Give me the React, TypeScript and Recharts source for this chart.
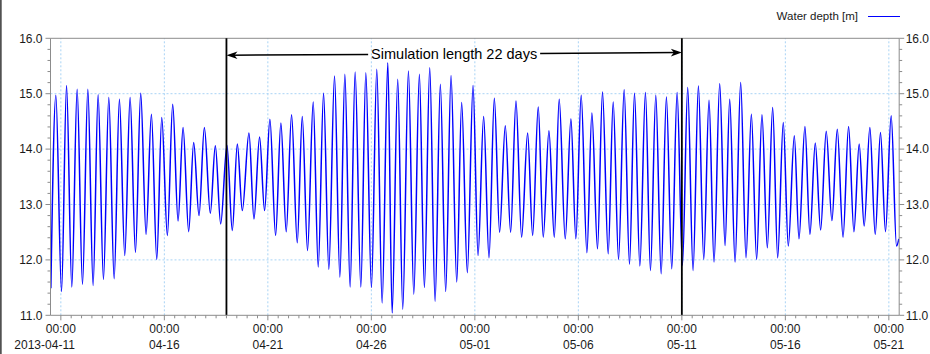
import React from 'react';
import { LineChart, Line, XAxis, YAxis, ReferenceLine } from 'recharts';

// Time in hours since 2013-04-11 00:00 (tidal highs and lows)
const hours = [
  -11.6, -5.8, 0.8, 6.6, 12.7, 18.9, 25.1, 31.3, 37.4, 43.2, 49.4, 55.6, 61.8, 67.9, 74.1, 80.3,
  86.5, 92.6, 98.8, 105.0, 111.2, 117.0, 123.5, 129.7, 135.9, 141.7, 148.2, 154.0, 160.2, 166.4, 173.3, 179.1,
  185.3, 192.6, 198.8, 204.6, 210.4, 218.1, 223.9, 230.4, 236.2, 242.4, 249.0, 255.1, 261.3, 267.5, 274.1, 279.9,
  286.0, 292.6, 298.4, 304.6, 310.7, 317.3, 323.5, 329.3, 335.4, 341.2, 347.8, 353.6, 360.1, 366.3, 372.5, 379.1,
  384.1, 390.6, 396.4, 403.0, 409.2, 415.7, 421.5, 427.7, 433.9, 440.0, 446.2, 452.4, 459.0, 464.7, 471.3, 477.9,
  483.7, 490.2, 496.4, 502.6, 508.7, 515.3, 521.5, 527.7, 534.2, 541.2, 547.0, 553.5, 559.3, 565.9, 572.1, 577.8,
  584.8, 591.4, 597.1, 603.3, 609.9, 615.7, 622.2, 628.0, 634.6, 640.4, 646.6, 653.1, 659.3, 665.1, 671.3, 677.8,
  683.6, 689.8, 696.0, 702.1, 708.3, 714.5, 720.7, 726.8, 733.0, 739.2, 745.4, 751.5, 757.3, 763.9, 770.1, 775.5,
  781.7, 788.2, 794.4, 800.6, 806.7, 812.9, 819.1, 825.3, 831.1, 837.6, 843.4, 850.4, 855.8, 862.7, 868.5, 874.7,
  880.9, 887.4, 894.0, 900.2, 906.9, 913.3, 919.5, 925.6, 931.4, 938.0, 944.2, 950.3, 956.1, 962.7, 968.9, 971.6,
];

// Water depth [m]
const depth = [
  11.49, 14.97, 11.43, 15.15, 11.51, 15.08, 11.56, 15.08, 11.54, 14.98, 11.65, 14.93, 11.66, 14.90, 12.08, 14.93,
  12.14, 15.01, 12.46, 14.63, 12.01, 14.57, 12.44, 14.81, 12.70, 14.39, 12.51, 14.12, 12.80, 14.39, 12.84, 14.06,
  12.65, 14.07, 12.53, 14.09, 12.89, 14.29, 12.74, 14.22, 12.89, 14.54, 12.44, 14.47, 12.51, 14.62, 12.31, 14.59,
  12.17, 14.85, 11.87, 15.01, 11.83, 15.32, 11.69, 15.35, 11.51, 15.39, 11.51, 15.38, 11.50, 15.44, 11.22, 15.56,
  11.04, 15.26, 11.11, 15.41, 11.38, 15.35, 11.50, 15.47, 11.25, 15.17, 11.43, 15.33, 11.60, 14.84, 11.77, 15.15,
  12.08, 14.59, 12.04, 14.92, 12.50, 14.42, 12.50, 14.87, 12.41, 14.29, 12.44, 14.76, 12.41, 14.33, 12.41, 14.90,
  12.38, 14.55, 12.38, 14.97, 12.13, 14.65, 12.20, 15.03, 12.11, 14.85, 12.01, 15.07, 11.92, 15.01, 11.89, 15.02,
  11.81, 14.97, 11.75, 14.94, 11.84, 15.02, 11.90, 15.11, 11.81, 15.14, 12.01, 14.88, 11.96, 15.18, 12.26, 14.90,
  11.96, 15.20, 12.04, 14.63, 12.01, 14.62, 12.22, 14.75, 12.04, 14.48, 12.25, 14.24, 12.38, 14.41, 12.46, 14.11,
  12.54, 14.32, 12.71, 14.36, 12.41, 14.41, 12.51, 14.09, 12.61, 14.39, 12.46, 14.30, 12.51, 14.60, 12.25, 12.38,
];

const xMajorTicks = [0, 120, 240, 360, 480, 600, 720, 840, 960];
const xMajorLabels = ['2013-04-11', '04-16', '04-21', '04-26', '05-01', '05-06', '05-11', '05-16', '05-21'];
const xTimeLabel = '00:00';
const xMinorStep = 12;
const xDomain = [-12, 972];

const yMajorTicks = [11, 12, 13, 14, 15, 16];
const yMinorStep = 0.2;
const yDomain = [11, 16];

const simulationStart = 192; // 2013-04-19 00:00
const simulationEnd = 720; // 2013-05-11 00:00
const arrowLevels = [15.695, 15.742];
const annotationText = 'Simulation length 22 days';
const seriesName = 'Water depth [m]';

const data = hours.map((t, i) => ({ t, depth: depth[i] }));

const xAllTicks: number[] = [];
for (let v = 0; v <= 960; v += xMinorStep) xAllTicks.push(v);
const yAllTicks: number[] = [];
for (let i = 0; i <= Math.round((yDomain[1] - yDomain[0]) / yMinorStep); i++) {
  yAllTicks.push(Math.round((yDomain[0] + i * yMinorStep) * 10) / 10);
}

const FONT = '"Liberation Sans", Arial, sans-serif';
const AXIS = '#8c8c8c';
const GRID = '#a9d3f5';
const TEXT = '#1a1a1a';

const XTick = (props: any) => {
  const { x, y, payload } = props;
  const v = payload.value;
  const idx = xMajorTicks.indexOf(v);
  if (idx < 0) {
    return <line x1={x} x2={x} y1={y} y2={y + 3} stroke={AXIS} strokeWidth={1} />;
  }
  const first = idx === 0;
  return (
    <g>
      <line x1={x} x2={x} y1={y} y2={y + 5} stroke={AXIS} strokeWidth={1} />
      <text x={x} y={y + 17.5} textAnchor="middle" fontSize={12} fontFamily={FONT} fill={TEXT}>
        {xTimeLabel}
      </text>
      <text
        x={first ? x + 14 : x}
        y={y + 33.5}
        textAnchor={first ? 'end' : 'middle'}
        fontSize={12}
        fontFamily={FONT}
        fill={TEXT}
      >
        {xMajorLabels[idx]}
      </text>
    </g>
  );
};

const YTickLeft = (props: any) => {
  const { x, y, payload } = props;
  const major = yMajorTicks.includes(payload.value);
  return (
    <g>
      <line x1={x - (major ? 5 : 3)} x2={x} y1={y} y2={y} stroke={AXIS} strokeWidth={1} />
      {major && (
        <text x={x - 8} y={y + 4.3} textAnchor="end" fontSize={12} fontFamily={FONT} fill={TEXT}>
          {payload.value.toFixed(1)}
        </text>
      )}
    </g>
  );
};

const YTickRight = (props: any) => {
  const { x, y, payload } = props;
  const major = yMajorTicks.includes(payload.value);
  return (
    <g>
      <line x1={x} x2={x + (major ? 5 : 3)} y1={y} y2={y} stroke={AXIS} strokeWidth={1} />
      {major && (
        <text x={x + 6.5} y={y + 4.3} textAnchor="start" fontSize={12} fontFamily={FONT} fill={TEXT}>
          {payload.value.toFixed(1)}
        </text>
      )}
    </g>
  );
};

const ArrowShape = (props: any) => {
  const { x1, y1, x2, y2 } = props;
  if (x1 == null) return null;
  const mx = (x1 + x2) / 2;
  const gap = 86;
  const yAt = (x: number) => y1 + ((y2 - y1) * (x - x1)) / (x2 - x1);
  const head = 11;
  const hw = 3.8;
  return (
    <g>
      <line x1={x1 + 4} y1={yAt(x1 + 4)} x2={mx - gap} y2={yAt(mx - gap)} stroke="#000" strokeWidth={1.5} />
      <line x1={mx + gap} y1={yAt(mx + gap)} x2={x2 - 4} y2={yAt(x2 - 4)} stroke="#000" strokeWidth={1.5} />
      <path
        d={`M${x1},${y1} L${x1 + head},${y1 - hw} L${x1 + head - 3},${y1} L${x1 + head},${y1 + hw} Z`}
        fill="#000"
      />
      <path
        d={`M${x2},${y2} L${x2 - head},${y2 - hw} L${x2 - head + 3},${y2} L${x2 - head},${y2 + hw} Z`}
        fill="#000"
      />
      <text x={mx} y={yAt(mx) + 5.3} textAnchor="middle" fontSize={14.5} fontFamily={FONT} fill="#000">
        {annotationText}
      </text>
    </g>
  );
};

export default function App() {
  return (
    <div style={{ position: 'absolute', left: 0, top: 0, width: 930, height: 354, background: '#fff' }}>
      <LineChart
        width={930}
        height={354}
        data={data}
        margin={{ top: 38.3, right: 0, bottom: 0, left: 0 }}
      >
        <XAxis
          dataKey="t"
          type="number"
          domain={xDomain}
          allowDataOverflow
          ticks={xAllTicks}
          interval={0}
          tick={<XTick />}
          tickLine={false}
          tickSize={0}
          tickMargin={0}
          height={38.7}
          axisLine={{ stroke: AXIS }}
        />
        <YAxis
          yAxisId="left"
          type="number"
          domain={yDomain}
          allowDataOverflow
          ticks={yAllTicks}
          interval={0}
          tick={<YTickLeft />}
          tickLine={false}
          tickSize={0}
          tickMargin={0}
          width={50.5}
          axisLine={{ stroke: AXIS }}
        />
        <YAxis
          yAxisId="right"
          orientation="right"
          type="number"
          domain={yDomain}
          allowDataOverflow
          ticks={yAllTicks}
          interval={0}
          tick={<YTickRight />}
          tickLine={false}
          tickSize={0}
          tickMargin={0}
          width={30.8}
          axisLine={{ stroke: AXIS }}
        />
        {yMajorTicks.slice(1, -1).map((v) => (
          <ReferenceLine key={'gy' + v} yAxisId="left" y={v} stroke={GRID} strokeDasharray="2 2" />
        ))}
        {xMajorTicks.map((v) => (
          <ReferenceLine key={'gx' + v} yAxisId="left" x={v} stroke={GRID} strokeDasharray="2 2" />
        ))}
        <ReferenceLine yAxisId="left" y={yDomain[1]} stroke={AXIS} />
        <Line
          yAxisId="left"
          type="monotone"
          dataKey="depth"
          name={seriesName}
          stroke="#0000ff"
          strokeWidth={1.5}
          dot={false}
          isAnimationActive={false}
        />
        <ReferenceLine yAxisId="left" x={simulationStart} stroke="#000" strokeWidth={1.8} />
        <ReferenceLine yAxisId="left" x={simulationEnd} stroke="#000" strokeWidth={1.8} />
        <ReferenceLine
          yAxisId="left"
          ifOverflow="visible"
          segment={[
            { x: simulationStart, y: arrowLevels[0] },
            { x: simulationEnd, y: arrowLevels[1] },
          ]}
          shape={<ArrowShape />}
        />
      </LineChart>
      <div
        style={{
          position: 'absolute',
          top: 8,
          left: 700,
          width: 200,
          display: 'flex',
          justifyContent: 'flex-end',
          alignItems: 'center',
          fontFamily: FONT,
          fontSize: 11.5,
          color: TEXT,
          lineHeight: '16px',
        }}
      >
        <span>{seriesName}</span>
        <span
          style={{ display: 'inline-block', width: 32, height: 0, borderTop: '1.3px solid #0000ff', marginLeft: 10 }}
        />
      </div>
      <div
        style={{
          position: 'absolute',
          left: 0,
          top: 0,
          width: 2,
          height: 354,
          background: 'linear-gradient(to right, #3a3a3a, #9a9a9a)',
        }}
      />
    </div>
  );
}
